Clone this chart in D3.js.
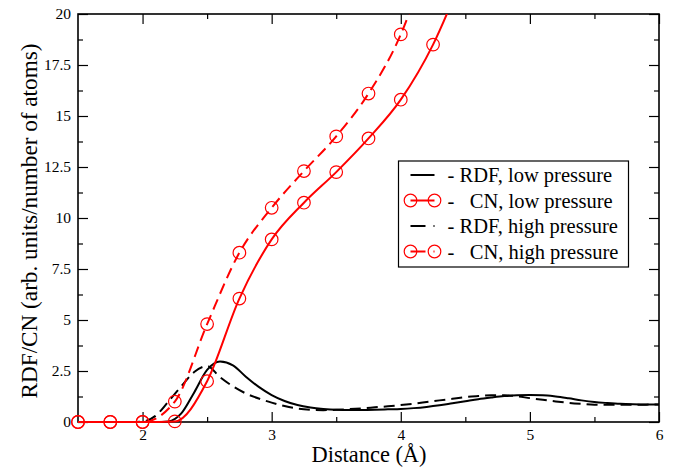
<!DOCTYPE html>
<html>
<head>
<meta charset="utf-8">
<script src="https://cdn.jsdelivr.net/npm/d3@7"></script>
<style>
  body { margin: 0; background: #fff; }
  svg text { font-family: "Liberation Serif", Tinos, "Times New Roman", Times; }
</style>
</head>
<body>
<div id="chart"></div>
<script>
// RDF curves sampled every 0.1 A
const rdfX = [1.5,1.6,1.7,1.8,1.9,2.0,2.1,2.2,2.3,2.4,2.5,2.6,2.7,2.8,2.9,3.0,3.1,3.2,3.3,3.4,3.5,3.6,3.7,3.8,3.9,4.0,
  4.1,4.2,4.3,4.4,4.5,4.6,4.7,4.8,4.9,5.0,5.1,5.2,5.3,5.4,5.5,5.6,5.7,5.8,5.9,6.0];
const rdfLow = [0,0,0,0,0,0,0,0.03,0.42,1.45,2.55,2.96,2.78,2.22,1.72,1.32,1.03,0.83,0.71,0.64,0.6,0.59,0.59,0.6,0.62,0.64,
  0.68,0.74,0.82,0.92,1.02,1.12,1.2,1.27,1.31,1.32,1.31,1.25,1.16,1.06,0.98,0.93,0.89,0.87,0.86,0.86];
const rdfHigh = [0,0,0,0,0,0.02,0.3,1.0,1.75,2.45,2.74,2.2,1.75,1.4,1.15,0.95,0.78,0.66,0.6,0.58,0.6,0.63,0.67,0.72,0.77,0.83,
  0.9,0.98,1.06,1.14,1.22,1.27,1.31,1.31,1.26,1.17,1.09,1.01,0.94,0.89,0.85,0.84,0.84,0.84,0.85,0.86];

// CN curves, one symbol every 0.25 A
const cnX = [1.5,1.75,2.0,2.25,2.5,2.75,3.0,3.25,3.5,3.75,4.0,4.25,4.5];
const cnLow = [0,0,0,0.03,2.0,6.05,8.95,10.75,12.25,13.9,15.8,18.5,22.2];
const cnHigh = [0,0,0,1.0,4.8,8.3,10.5,12.3,14.0,16.1,19.0,23.5,null];

const xMajor = [2,3,4,5,6];
const xMinor = [2.5,3.5,4.5,5.5];
const yMajor = [0,2.5,5,7.5,10,12.5,15,17.5,20];
const yMinor = [1.25,3.75,6.25,8.75,11.25,13.75,16.25,18.75];

const legendItems = [
  {label: "- RDF, low pressure", color: "#000", dash: null, marker: false},
  {label: "-   CN, low pressure", color: "#ff0000", dash: null, marker: true},
  {label: "- RDF, high pressure", color: "#000", dash: "15,8", marker: false},
  {label: "-   CN, high pressure", color: "#ff0000", dash: "15,8", marker: true}
];

const fontStack = '"Liberation Serif", Tinos, "Times New Roman", Times';

const margin = {top: 14, right: 15, bottom: 46, left: 78};
const W = 674, H = 468;
const width = W - margin.left - margin.right;
const height = H - margin.top - margin.bottom;

const svg = d3.select("#chart").append("svg")
  .attr("width", W).attr("height", H)
  .attr("font-family", fontStack)
  .append("g")
  .attr("transform", `translate(${margin.left},${margin.top})`);

const x = d3.scaleLinear().domain([1.5, 6]).range([0, width]);
const y = d3.scaleLinear().domain([0, 20]).range([height, 0]);

svg.append("clipPath").attr("id", "clip")
  .append("rect").attr("x", -12).attr("y", 0).attr("width", width + 24).attr("height", height + 12);

// axes with inward ticks on all four sides
function styleAxis(g) {
  g.attr("font-family", fontStack).attr("font-size", 15.5);
  g.select(".domain").remove();
  g.selectAll("line").attr("stroke", "#000").attr("stroke-width", 1.2);
  g.selectAll("text").attr("fill", "#000");
}

svg.append("g").attr("transform", `translate(0,${height})`)
  .call(d3.axisBottom(x).tickValues(xMajor).tickSize(-10).tickPadding(7).tickFormat(d3.format("d")))
  .call(styleAxis);
svg.append("g").attr("transform", `translate(0,${height})`)
  .call(d3.axisBottom(x).tickValues(xMinor).tickSize(-5).tickFormat(""))
  .call(styleAxis);
svg.append("g")
  .call(d3.axisTop(x).tickValues(xMajor).tickSize(-10).tickFormat(""))
  .call(styleAxis);
svg.append("g")
  .call(d3.axisTop(x).tickValues(xMinor).tickSize(-5).tickFormat(""))
  .call(styleAxis);

svg.append("g")
  .call(d3.axisLeft(y).tickValues(yMajor).tickSize(-10).tickPadding(7).tickFormat(d => d))
  .call(styleAxis);
svg.append("g")
  .call(d3.axisLeft(y).tickValues(yMinor).tickSize(-5).tickFormat(""))
  .call(styleAxis);
svg.append("g").attr("transform", `translate(${width},0)`)
  .call(d3.axisRight(y).tickValues(yMajor).tickSize(-10).tickFormat(""))
  .call(styleAxis);
svg.append("g").attr("transform", `translate(${width},0)`)
  .call(d3.axisRight(y).tickValues(yMinor).tickSize(-5).tickFormat(""))
  .call(styleAxis);

svg.append("rect")
  .attr("width", width).attr("height", height)
  .attr("fill", "none").attr("stroke", "#000").attr("stroke-width", 1.6);

// curves
const plot = svg.append("g").attr("clip-path", "url(#clip)");

const line = d3.line()
  .defined(d => d[1] != null)
  .x(d => x(d[0])).y(d => y(d[1]))
  .curve(d3.curveMonotoneX);

const series = [
  {xs: rdfX, ys: rdfLow, color: "#000", dash: null, marker: false},
  {xs: rdfX, ys: rdfHigh, color: "#000", dash: "11,6", marker: false},
  {xs: cnX, ys: cnLow, color: "#ff0000", dash: null, marker: true},
  {xs: cnX, ys: cnHigh, color: "#ff0000", dash: "11,6", marker: true}
];

series.forEach(s => {
  const pts = s.xs.map((v, i) => [v, s.ys[i]]);
  plot.append("path")
    .datum(pts)
    .attr("d", line)
    .attr("fill", "none")
    .attr("stroke", s.color)
    .attr("stroke-width", 2)
    .attr("stroke-dasharray", s.dash);
  if (s.marker) {
    plot.selectAll(null)
      .data(pts.filter(d => d[1] != null))
      .enter().append("circle")
      .attr("cx", d => x(d[0]))
      .attr("cy", d => y(d[1]))
      .attr("r", 6.3)
      .attr("fill", "none")
      .attr("stroke", s.color)
      .attr("stroke-width", 1.2);
  }
});

// axis titles
svg.append("text")
  .attr("x", 369 - margin.left).attr("y", height + 40)
  .attr("text-anchor", "middle")
  .attr("font-size", 22.4)
  .text("Distance (Å)");

svg.append("text")
  .attr("transform", `translate(${37 - margin.left},${221 - margin.top}) rotate(-90)`)
  .attr("text-anchor", "middle")
  .attr("font-size", 23.2)
  .text("RDF/CN (arb. units/number of atoms)");

// legend
const lg = svg.append("g").attr("transform", `translate(${398.5 - margin.left},${161 - margin.top})`);
lg.append("rect")
  .attr("width", 230).attr("height", 106)
  .attr("fill", "#fff").attr("stroke", "#000").attr("stroke-width", 1.2);

legendItems.forEach((d, i) => {
  const cy = 14 + i * 25.5;
  const row = lg.append("g").attr("transform", `translate(0,${cy})`);
  row.append("line")
    .attr("x1", 12).attr("x2", 36)
    .attr("stroke", d.color).attr("stroke-width", 2)
    .attr("stroke-dasharray", d.dash);
  if (d.marker) {
    [12, 36].forEach(cx => row.append("circle")
      .attr("cx", cx).attr("r", 6.3)
      .attr("fill", "none").attr("stroke", d.color).attr("stroke-width", 1.2));
  }
  row.append("text")
    .attr("x", 49).attr("y", 7)
    .attr("font-size", 20.5)
    .attr("xml:space", "preserve")
    .style("white-space", "pre")
    .text(d.label);
});
</script>
</body>
</html>
